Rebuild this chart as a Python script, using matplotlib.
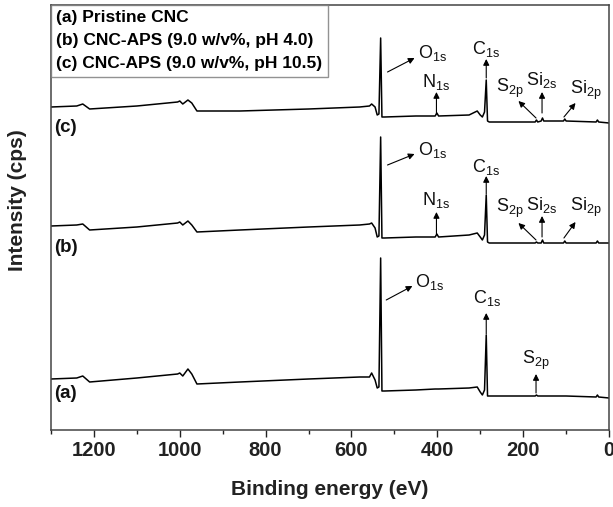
import matplotlib
matplotlib.use("Agg")
import matplotlib.pyplot as plt
from matplotlib.ticker import MultipleLocator

plt.rcParams['font.family'] = ['Liberation Sans', 'DejaVu Sans']
plt.rcParams['mathtext.fontset'] = 'custom'
plt.rcParams['mathtext.rm'] = 'Liberation Sans'
plt.rcParams['mathtext.default'] = 'regular'

# ---------------- data ----------------
energy = [1300, 1240, 1226, 1210, 1100, 1005, 1000, 993, 981, 972, 960, 860, 700,
          581, 558, 553, 545, 540, 536, 532, 529, 523, 450, 405, 401, 397, 326,
          307, 300, 295, 290, 286, 283, 279, 200, 172, 169, 166, 158, 155, 152,
          106, 103, 100, 30, 27, 24, 0]

intensity_c = [323, 324, 326, 321, 324, 328, 329, 326, 330, 327, 319, 319, 321,
               323, 324, 326, 323, 315, 316, 392, 313, 313, 314, 314, 317, 314, 315,
               319, 315, 313, 318, 350, 309, 308, 308, 308, 310, 308, 309, 312, 309,
               309, 311, 309, 308, 310, 308, 307]

intensity_b = [204, 205, 206, 200, 203, 207, 208, 205, 209, 205, 198, 200, 203,
               205, 206, 207, 202, 193, 194, 293, 192, 192, 193, 193, 196, 193, 195,
               197, 193, 190, 195, 235, 188, 187, 187, 187, 188, 187, 187, 190, 187,
               187, 189, 187, 187, 189, 187, 187]

intensity_a = [51, 52, 54, 48, 52, 56, 57, 54, 61, 56, 46, 48, 51,
               53, 53, 57, 50, 42, 43, 172, 39, 39, 40, 41, 41, 41, 42,
               43, 38, 35, 40, 95, 34, 34, 34, 34, 35, 34, 34, 34, 34,
               34, 34, 34, 33, 35, 33, 32]

legend_labels = ["(a) Pristine CNC",
                 "(b) CNC-APS (9.0 w/v%, pH 4.0)",
                 "(c) CNC-APS (9.0 w/v%, pH 10.5)"]
curve_tags = ["(a)", "(b)", "(c)"]
xticks = [1200, 1000, 800, 600, 400, 200, 0]

# annotations: (label, label_x, label_y, ha, arrow_tail, arrow_tip)
annotations = [
    # (c)
    (r"O$_{1s}$", 446, 377, 'left', (516, 358), (453, 372)),
    (r"C$_{1s}$", 286, 381, 'center', (286, 352), (286, 371)),
    (r"N$_{1s}$", 402, 348, 'center', (402, 316), (402, 338)),
    (r"S$_{2p}$", 230, 342, 'center', (170, 312), (211, 329)),
    (r"Si$_{2s}$", 157, 350, 'center', (156, 317), (156, 338)),
    (r"Si$_{2p}$", 53, 340, 'center', (105, 313), (78, 327)),
    # (b)
    (r"O$_{1s}$", 446, 280, 'left', (516, 265), (453, 276)),
    (r"C$_{1s}$", 286, 263, 'center', (286, 236), (286, 254)),
    (r"N$_{1s}$", 402, 230, 'center', (402, 196), (402, 218)),
    (r"S$_{2p}$", 230, 222, 'center', (170, 190), (211, 207)),
    (r"Si$_{2s}$", 157, 225, 'center', (156, 193), (156, 214)),
    (r"Si$_{2p}$", 53, 223, 'center', (105, 192), (78, 208)),
    # (a)
    (r"O$_{1s}$", 451, 148, 'left', (519, 130), (458, 144)),
    (r"C$_{1s}$", 284, 132, 'center', (286, 96), (286, 117)),
    (r"S$_{2p}$", 170, 70, 'center', (170, 37), (170, 56)),
]

# ---------------- figure ----------------
fig = plt.figure(figsize=(6.13, 5.07), dpi=100)
ax = fig.add_axes([51 / 613, 77 / 507, 558 / 613, 425 / 507])

la, = ax.plot(energy, intensity_a, color='black', lw=1.1)
lb, = ax.plot(energy, intensity_b, color='black', lw=1.1)
lc, = ax.plot(energy, intensity_c, color='black', lw=1.1)

ax.set_xlim(1300, 0)
ax.set_ylim(0, 425)
ax.set_yticks([])
ax.set_xticks(xticks)
ax.xaxis.set_minor_locator(MultipleLocator(100))
ax.tick_params(axis='x', which='major', direction='out', length=5, width=1,
               labelsize=14.5, pad=3, colors='#222222')
ax.tick_params(axis='x', which='minor', direction='out', length=3, width=1,
               colors='#222222')
for lab in ax.get_xticklabels():
    lab.set_fontweight('bold')
for sp in ax.spines.values():
    sp.set_color('#444444')
    sp.set_linewidth(1.1)

ax.set_xlabel("Binding energy (eV)", fontsize=15, fontweight='bold',
              color='#222222', labelpad=14)
fig.text(18 / 613, 1 - 200 / 507, "Intensity (cps)", rotation=90,
         fontsize=15, fontweight='bold', color='#222222',
         ha='center', va='center')

# curve tags
for tag, ty in zip(curve_tags, [36, 182, 303]):
    ax.text(1293, ty, tag, fontsize=13.5, fontweight='bold', ha='left',
            va='center', color='#111111')

# legend
leg = ax.legend([la, lb, lc], legend_labels, loc='upper left',
                bbox_to_anchor=(0, 1), borderaxespad=0, handlelength=0,
                handletextpad=0, frameon=True, fancybox=False,
                prop={'family': 'Liberation Sans', 'weight': 'bold', 'size': 12.5},
                borderpad=0.3, labelspacing=0.45)
leg.get_frame().set_edgecolor('#777777')
leg.get_frame().set_linewidth(1.0)
for h in leg.legend_handles:
    h.set_visible(False)

# annotations
for lbl, lx, ly, ha, tail, tip in annotations:
    ax.text(lx, ly, lbl, fontsize=13, ha=ha, va='center', color='#111111')
    ax.annotate('', xy=tip, xytext=tail,
                arrowprops=dict(arrowstyle='-|>', color='black', lw=0.8,
                                mutation_scale=9, shrinkA=0, shrinkB=0))

fig.savefig("out.png", dpi=100)
